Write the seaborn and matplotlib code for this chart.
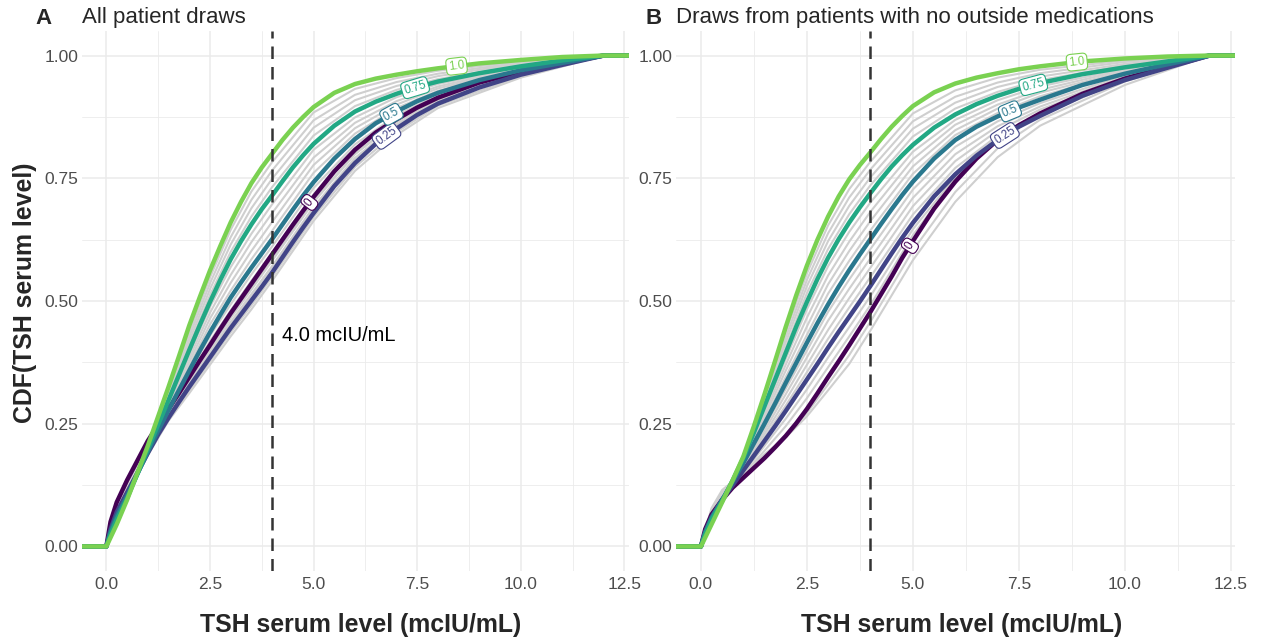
import numpy as np
import pandas as pd
import matplotlib
matplotlib.use("Agg")
import matplotlib.pyplot as plt
import seaborn as sns

# CDF of TSH serum level for mixing weights
# x support: curves are flat at 0 left of 0 and reach 1 at 12
SUPPORT_LO = [-0.6, 0.0]
SUPPORT_HI = [12.0, 12.6]

# highlighted weights
WEIGHT_LABELS = ["0", "0.25", "0.5", "0.75", "1.0"]
CX = [0.1, 0.25, 0.5, 0.75, 1, 1.25, 1.5, 1.75, 2, 2.25, 2.5, 2.75, 3, 3.25, 3.5, 3.75,
      4, 4.25, 4.5, 4.75, 5, 5.5, 6, 6.5, 7, 7.5, 8, 9, 10, 11]

a_w0 = [.05, .09, .135, .175, .215, .248, .28, .312, .345, .378, .41, .443, .475, .505, .535, .565,
        .595, .625, .655, .684, .712, .764, .808, .843, .87, .894, .914, .945, .967, .984]
a_w25 = [.035, .07, .11, .15, .19, .228, .262, .294, .325, .355, .385, .415, .445, .473, .501, .529,
         .558, .589, .62, .65, .679, .734, .781, .82, .851, .879, .902, .935, .961, .981]
a_w50 = [.03, .062, .103, .148, .193, .236, .278, .318, .358, .398, .436, .472, .507, .538, .568, .597,
         .626, .656, .686, .715, .742, .79, .83, .862, .886, .907, .924, .95, .97, .985]
a_w75 = [.025, .055, .098, .148, .198, .248, .298, .349, .40, .45, .498, .543, .585, .622, .656, .687,
         .715, .744, .772, .797, .82, .857, .886, .906, .922, .936, .947, .964, .978, .99]
a_w100 = [.018, .045, .095, .15, .205, .265, .325, .387, .45, .507, .562, .612, .66, .702, .74, .772,
          .80, .828, .853, .875, .895, .924, .942, .953, .961, .968, .974, .984, .991, .997]

b_w0 = [.035, .065, .095, .12, .14, .16, .18, .202, .225, .251, .28, .312, .345, .377, .41, .444,
        .478, .514, .55, .588, .622, .688, .743, .79, .828, .858, .882, .922, .953, .977]
b_w25 = [.03, .06, .095, .125, .155, .185, .215, .245, .276, .308, .34, .372, .405, .437, .468, .499,
         .531, .564, .597, .629, .659, .713, .758, .796, .828, .855, .877, .918, .95, .975]
b_w50 = [.028, .058, .095, .132, .17, .21, .25, .291, .333, .374, .415, .455, .493, .529, .563, .595,
         .626, .657, .687, .716, .743, .79, .828, .855, .876, .894, .91, .94, .963, .982]
b_w75 = [.025, .055, .092, .135, .18, .232, .286, .34, .394, .448, .498, .545, .588, .626, .66, .691,
         .72, .748, .774, .797, .818, .853, .88, .901, .918, .932, .944, .962, .976, .988]
b_w100 = [.018, .045, .09, .135, .183, .245, .31, .378, .447, .512, .572, .625, .672, .713, .748, .777,
          .803, .83, .855, .877, .897, .925, .943, .955, .964, .972, .978, .988, .994, .998]

# the other weights (grey)
GX = [0.25, 0.5, 1, 1.5, 2, 2.5, 3, 3.5, 4, 5, 6, 7, 8, 10]

a_grey = [
    [.047, .096, .204, .32, .436, .548, .645, .723, .783, .884, .932, .954, .969, .988],
    [.049, .096, .203, .315, .427, .536, .63, .706, .766, .868, .920, .946, .963, .986],
    [.051, .097, .202, .31, .418, .524, .615, .689, .749, .853, .909, .938, .958, .984],
    [.053, .097, .201, .305, .409, .512, .60, .672, .732, .837, .897, .930, .952, .981],
    [.056, .099, .199, .296, .392, .488, .569, .637, .697, .808, .874, .915, .942, .976],
    [.058, .10, .198, .292, .384, .476, .553, .62, .679, .792, .863, .907, .937, .975],
    [.059, .101, .197, .288, .376, .464, .537, .602, .661, .777, .852, .90, .933, .973],
    [.061, .102, .196, .284, .368, .452, .521, .585, .643, .761, .841, .893, .928, .972],
    [.064, .104, .194, .277, .353, .429, .493, .554, .611, .730, .819, .878, .920, .968],
    [.065, .106, .193, .274, .346, .418, .481, .541, .598, .717, .810, .872, .916, .967],
    [.067, .107, .192, .271, .339, .407, .469, .527, .584, .704, .80, .865, .912, .965],
    [.068, .109, .191, .268, .332, .396, .457, .514, .571, .691, .791, .859, .908, .964],
    [.083, .127, .207, .275, .338, .402, .465, .523, .582, .701, .799, .864, .911, .965],
    [.077, .118, .198, .27, .332, .393, .455, .512, .57, .691, .791, .858, .907, .964],
    [.068, .108, .188, .26, .318, .377, .436, .491, .549, .671, .773, .844, .898, .958],
    [.066, .106, .186, .256, .312, .37, .428, .483, .541, .663, .765, .838, .893, .955],
]

b_grey = [
    [.047, .09, .182, .305, .437, .556, .654, .728, .784, .882, .929, .955, .971, .990],
    [.049, .091, .182, .30, .426, .543, .638, .711, .768, .866, .916, .945, .964, .987],
    [.051, .091, .181, .295, .416, .53, .622, .694, .752, .851, .904, .936, .957, .983],
    [.053, .092, .181, .29, .405, .516, .606, .677, .736, .835, .892, .926, .950, .980],
    [.056, .093, .178, .278, .382, .483, .571, .641, .701, .804, .869, .909, .937, .973],
    [.056, .093, .176, .271, .37, .466, .552, .621, .682, .789, .859, .90, .930, .971],
    [.057, .094, .174, .264, .358, .448, .534, .602, .663, .774, .848, .892, .924, .968],
    [.057, .094, .172, .257, .345, .431, .515, .582, .644, .759, .838, .883, .917, .966],
    [.058, .097, .167, .243, .321, .399, .478, .544, .606, .727, .814, .866, .903, .96],
    [.059, .099, .164, .236, .31, .385, .46, .525, .587, .710, .799, .856, .896, .957],
    [.059, .101, .161, .229, .298, .37, .441, .506, .568, .693, .785, .847, .89, .953],
    [.06, .103, .158, .222, .287, .355, .423, .487, .549, .676, .771, .837, .883, .95],
    [.07, .10, .15, .205, .26, .32, .385, .447, .51, .646, .753, .829, .878, .951],
    [.072, .104, .147, .195, .245, .302, .365, .428, .492, .634, .749, .828, .879, .952],
    [.075, .11, .148, .185, .225, .272, .33, .39, .458, .603, .722, .811, .869, .947],
    [.078, .115, .15, .188, .222, .265, .318, .372, .44, .583, .702, .793, .857, .94],
]

PANEL_TITLES = ["All patient draws", "Draws from patients with no outside medications"]
PANEL_TAGS = ["A", "B"]
XTICKS = [0, 2.5, 5, 7.5, 10, 12.5]
XTICK_LABELS = ["0.0", "2.5", "5.0", "7.5", "10.0", "12.5"]
YTICKS = [0, 0.25, 0.5, 0.75, 1.0]
YTICK_LABELS = ["0.00", "0.25", "0.50", "0.75", "1.00"]
CUTOFF = 4.0

COLORS = ["#440154", "#414487", "#2A788E", "#22A884", "#7AD151"]
GREY = "#CFCFCF"


def long_frame(xs, rows, labels):
    recs = []
    full_x = SUPPORT_LO + list(xs) + SUPPORT_HI
    for lab, row in zip(labels, rows):
        full_y = [0.0, 0.0] + list(row) + [1.0, 1.0]
        for x, y in zip(full_x, full_y):
            recs.append((lab, x, y))
    return pd.DataFrame(recs, columns=["weight", "tsh", "cdf"])


sns.set_style("white")
plt.rcParams["font.family"] = ["Liberation Sans", "DejaVu Sans"]

W, H = 1261, 639
fig = plt.figure(figsize=(W / 100, H / 100), dpi=100)
axA = fig.add_axes([81.5 / W, 68 / H, 547 / W, 540 / H])
axB = fig.add_axes([675.5 / W, 68 / H, 559.5 / W, 540 / H])

panels = [
    (axA, [a_w0, a_w25, a_w50, a_w75, a_w100], a_grey, [4.9, 6.76, 6.88, 7.45, 8.45]),
    (axB, [b_w0, b_w25, b_w50, b_w75, b_w100], b_grey, [4.93, 7.17, 7.29, 7.84, 8.87]),
]

pal = dict(zip(WEIGHT_LABELS, COLORS))

for ax, main_rows, grey_rows, label_x in panels:
    grey_df = long_frame(GX, grey_rows, [f"g{i}" for i in range(len(grey_rows))])
    main_df = long_frame(CX, main_rows, WEIGHT_LABELS)

    sns.lineplot(data=grey_df, x="tsh", y="cdf", units="weight", estimator=None,
                 color=GREY, linewidth=1.5, sort=False, legend=False, ax=ax)
    sns.lineplot(data=main_df, x="tsh", y="cdf", hue="weight", hue_order=WEIGHT_LABELS,
                 palette=pal, estimator=None, linewidth=3.2, sort=False, legend=False, ax=ax)

    ax.axvline(CUTOFF, color="#333333", linestyle=(0, (5, 3.2)), linewidth=1.8, zorder=5)

    ax.set_xlim(-0.6, 12.6)
    ax.set_ylim(-0.05, 1.05)
    ax.set_xticks(XTICKS)
    ax.set_xticklabels(XTICK_LABELS)
    ax.set_xticks([1.25, 3.75, 6.25, 8.75, 11.25], minor=True)
    ax.set_yticks(YTICKS)
    ax.set_yticklabels(YTICK_LABELS)
    ax.set_yticks([0.125, 0.375, 0.625, 0.875], minor=True)
    ax.grid(which="major", color="#EBEBEB", linewidth=1.1)
    ax.grid(which="minor", color="#EBEBEB", linewidth=0.6)
    ax.set_axisbelow(True)
    ax.tick_params(which="both", length=0, labelsize=12.5, labelcolor="#4D4D4D")
    ax.tick_params(axis="x", pad=4)
    ax.tick_params(axis="y", pad=2.5)
    sns.despine(ax=ax, left=True, bottom=True, top=True, right=True)

    ax.set_xlabel("TSH serum level (mcIU/mL)", fontsize=17.9, fontweight="bold")
    ax.xaxis.label.set_va("center")
    ax.xaxis.set_label_coords(0.511, -0.1)
    ax.set_ylabel("")

    # inline labels sitting on each highlighted curve
    full_x = np.array(SUPPORT_LO + CX + SUPPORT_HI)
    for lab, row, col, lx in zip(WEIGHT_LABELS, main_rows, COLORS, label_x):
        full_y = np.array([0.0, 0.0] + row + [1.0, 1.0])
        ly = np.interp(lx, full_x, full_y)
        p1 = ax.transData.transform((lx - 0.25, np.interp(lx - 0.25, full_x, full_y)))
        p2 = ax.transData.transform((lx + 0.25, np.interp(lx + 0.25, full_x, full_y)))
        ang = np.degrees(np.arctan2(p2[1] - p1[1], p2[0] - p1[0]))
        ax.text(lx, ly, lab, fontsize=8.3, color=col, rotation=ang, rotation_mode="anchor",
                ha="center", va="center", zorder=6,
                bbox=dict(boxstyle="round,pad=0.2,rounding_size=0.38", fc="white", ec=col, lw=0.8))

axA.set_ylabel("CDF(TSH serum level)", fontsize=17.9, fontweight="bold")
axA.yaxis.label.set_va("center")
axA.yaxis.label.set_ha("center")
axA.yaxis.set_label_coords(-0.103, 0.515)

axA.text(4.24, 0.43, "4.0 mcIU/mL", fontsize=14.4, ha="left", va="center", color="black")

fig.text(44 / W, 1 - 18 / H, PANEL_TAGS[0], fontsize=16, fontweight="bold", ha="center", va="center")
fig.text(82 / W, 1 - 18 / H, PANEL_TITLES[0], fontsize=16, ha="left", va="center")
fig.text(654 / W, 1 - 18 / H, PANEL_TAGS[1], fontsize=16, fontweight="bold", ha="center", va="center")
fig.text(676 / W, 1 - 18 / H, PANEL_TITLES[1], fontsize=16, ha="left", va="center")

fig.savefig("out.png", dpi=100)
